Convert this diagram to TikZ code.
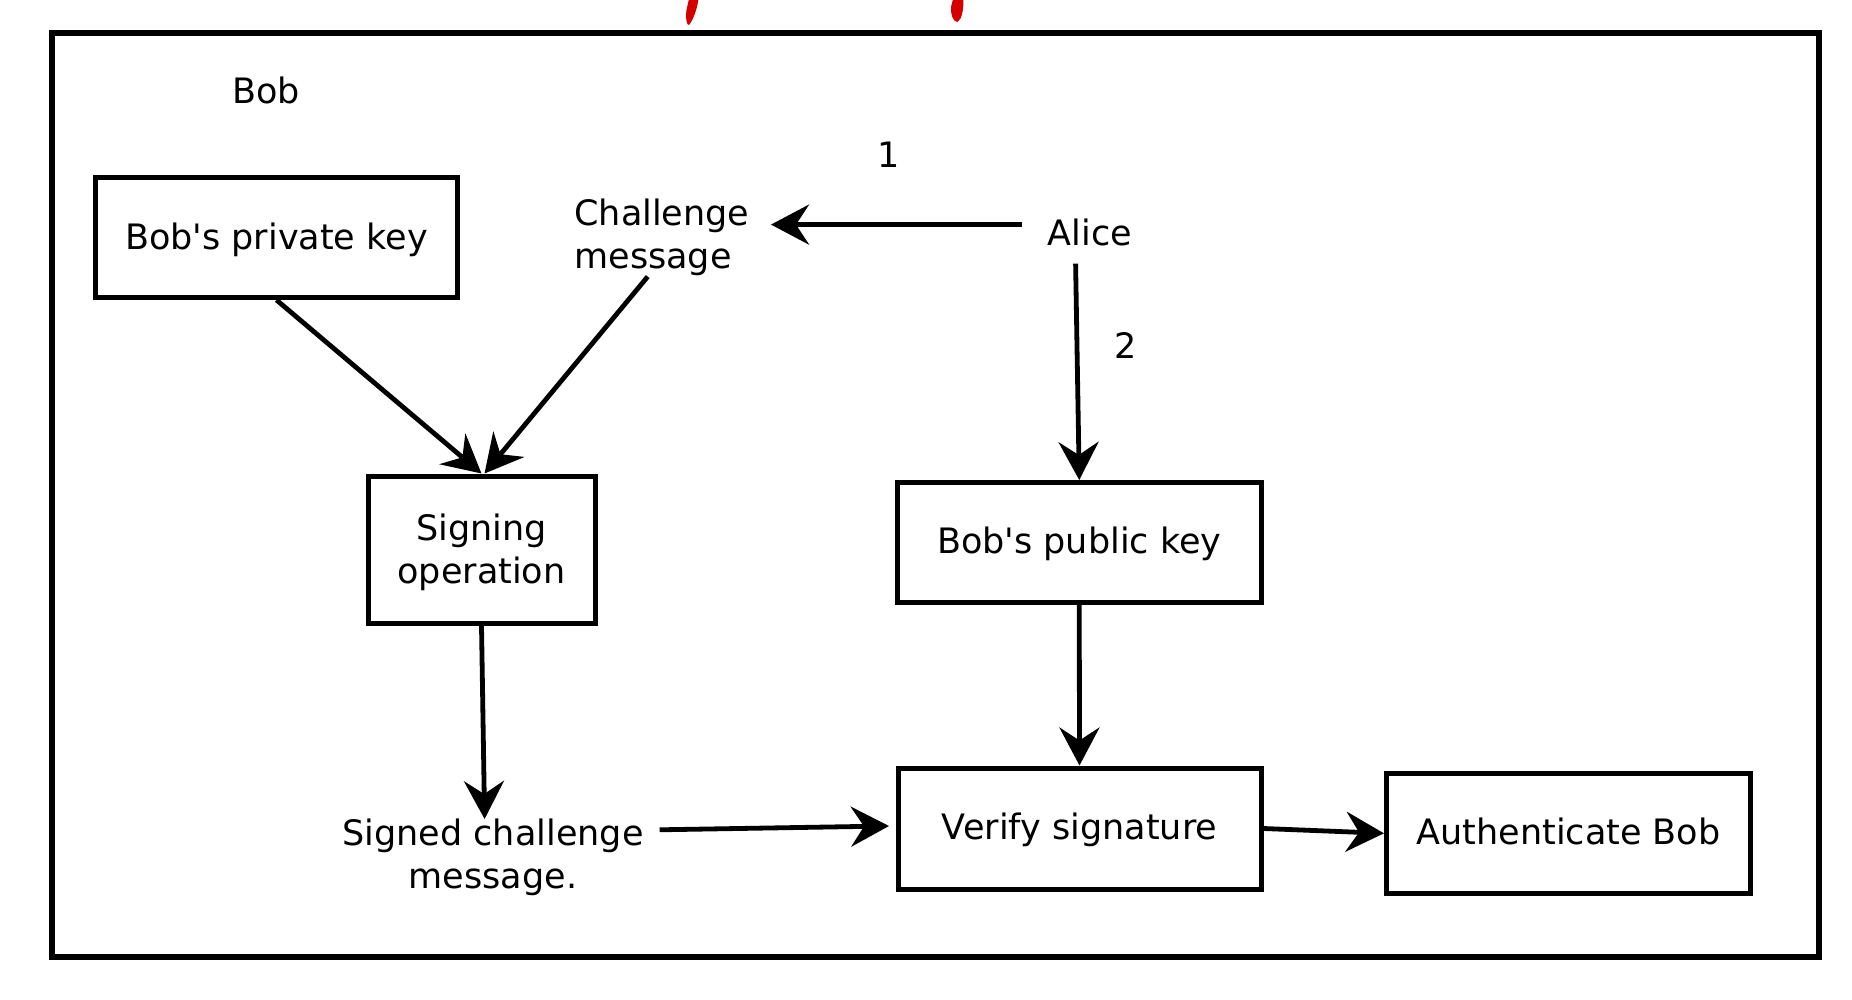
\documentclass[tikz,border=0pt]{standalone}
\usepackage{fontspec}
\setmainfont{DejaVu Sans}
\usetikzlibrary{arrows.meta,calc}
\definecolor{markred}{RGB}{212,0,0}
\begin{document}
\begin{tikzpicture}[x=0.5pt,y=-0.5pt,
  every node/.style={font=\fontsize{17.5}{21.5}\selectfont},
  box/.style={draw, line width=2.5pt, inner sep=0pt, align=center},
  lowtext/.style={text depth=1.9pt},
  lbl/.style={inner sep=0pt, align=center},
  arr/.style={line width=2.4pt, -{Stealth[length=19pt,width=20pt,inset=6.5pt]}},
  frame/.style={line width=2.75pt}
]
\useasboundingbox (0,0) rectangle (1852,1000);
\fill[white] (0,0) rectangle (1852,1000);

% red fragments at the top
\fill[markred] (689,-1) -- (698.5,-1) .. controls (697,10) and (693,20) .. (689,25)
  .. controls (686.5,25.5) and (685.5,18) .. (686.5,10) -- cycle;
\fill[markred] (953,-1) -- (963.5,-1) .. controls (963.5,10) and (962,19) .. (957.5,22)
  .. controls (953,22) and (950.5,14) .. (951,7) -- cycle;

% frame
\draw[frame] (52,33) rectangle (1819,957);

% boxes
\node[box, lowtext, minimum width=181pt, minimum height=59.75pt] (priv) at (276.5,237.75) {Bob\textquotesingle s private key};
\node[box, text depth=1.1pt, minimum width=113.5pt, minimum height=73.5pt] (sign) at (481.5,549.5) {Signing\\operation};
\node[box, lowtext, minimum width=181.75pt, minimum height=60pt] (pub) at (1079.25,542.5) {Bob\textquotesingle s public key};
\node[box, lowtext, minimum width=181.5pt, minimum height=60.5pt] (ver) at (1079.5,828.5) {Verify signature};
\node[box, text depth=2.4pt, minimum width=182pt, minimum height=60.3pt] (auth) at (1568.5,833.3) {Authenticate Bob};

% plain texts
\node[lbl] (boblbl) at (266,90) {Bob};
\node[lbl] (one) at (889,155) {1};
\node[lbl] (two) at (1126,346) {2};
\node[lbl] (alice) at (1090,232) {Alice};
\node[lbl, align=left, anchor=west] (chal) at (574,237.5) {Challenge\\message};
\node[lbl] (signed) at (493,857.5) {Signed challenge\\message.};

% connectors
\draw[arr] ($(alice.center)+(-68,-7.4)$) -- ($(chal.west)+(197,-12.9)$);
\draw[arr] ($(alice.center)+(-14.4,31.6)$) -- (pub.north);
\draw[arr] (priv.south) -- (sign.north);
\draw[arr] ($(chal.west)+(73.7,39.1)$) -- ($(sign.north)+(3,0)$);
\draw[arr] (sign.south) -- ($(signed.center)+(-8.4,-38.5)$);
\draw[arr] ($(signed.center)+(166.6,-27.7)$) -- ($(ver.west)+(-6.5,-2.5)$);
\draw[arr] (pub.south) -- (ver.north);
\draw[arr] (ver.east) -- (auth.west);
\end{tikzpicture}
\end{document}
